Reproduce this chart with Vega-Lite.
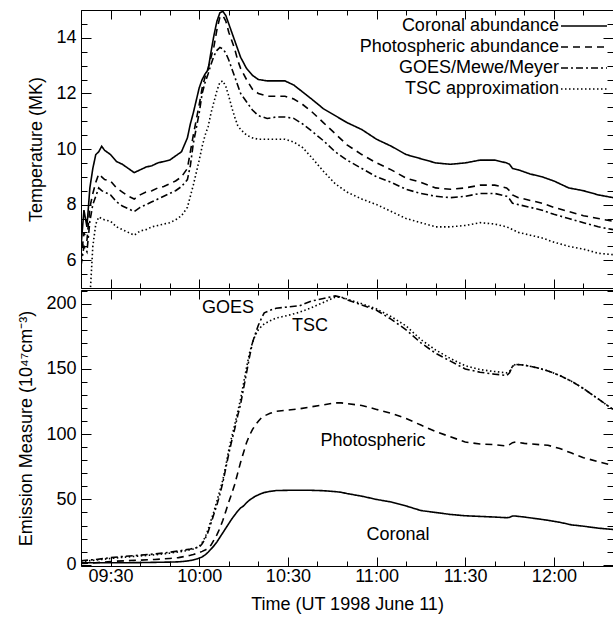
{
  "$schema": "https://vega.github.io/schema/vega-lite/v6.json",
  "padding": {"left": 17, "top": 9, "right": 0, "bottom": 0},
  "spacing": 0,
  "config": {
    "font": "Liberation Sans",
    "view": {"stroke": "black", "strokeWidth": 1},
    "axis": {"domain": false, "grid": false, "tickColor": "black", "labelColor": "black", "labelFontSize": 18, "titleFontSize": 18, "titleFontWeight": "normal", "titleColor": "black"}
  },
  "resolve": {"scale": {"strokeDash": "independent"}, "legend": {"strokeDash": "independent"}},
  "vconcat": [
    {
      "width": 532,
      "height": 278,
      "data": {
        "format": {"parse": {"t": "utc:'%H:%M'"}},
        "values": [
          {"t":"09:20","cor":6.5,"pho":6.0,"goe":5.8,"tsc":null},
          {"t":"09:21","cor":7.8,"pho":7.0,"goe":6.5,"tsc":null},
          {"t":"09:22","cor":7.2,"pho":6.7,"goe":6.3,"tsc":null},
          {"t":"09:23","cor":8.6,"pho":7.9,"goe":7.4,"tsc":4.6},
          {"t":"09:24","cor":9.3,"pho":8.4,"goe":8.0,"tsc":6.5},
          {"t":"09:25","cor":9.8,"pho":8.8,"goe":8.3,"tsc":7.3},
          {"t":"09:26","cor":9.9,"pho":9.1,"goe":8.6,"tsc":7.55},
          {"t":"09:27","cor":10.1,"pho":9.0,"goe":8.5,"tsc":7.5},
          {"t":"09:28","cor":9.95,"pho":8.9,"goe":8.45,"tsc":7.45},
          {"t":"09:30","cor":9.8,"pho":8.85,"goe":8.35,"tsc":7.4},
          {"t":"09:32","cor":9.55,"pho":8.6,"goe":8.1,"tsc":7.2},
          {"t":"09:34","cor":9.45,"pho":8.45,"goe":7.95,"tsc":7.1},
          {"t":"09:36","cor":9.3,"pho":8.3,"goe":7.85,"tsc":7.0},
          {"t":"09:38","cor":9.15,"pho":8.2,"goe":7.75,"tsc":6.9},
          {"t":"09:40","cor":9.25,"pho":8.35,"goe":7.9,"tsc":7.05},
          {"t":"09:42","cor":9.35,"pho":8.45,"goe":8.0,"tsc":7.1},
          {"t":"09:44","cor":9.4,"pho":8.5,"goe":8.1,"tsc":7.2},
          {"t":"09:46","cor":9.5,"pho":8.6,"goe":8.2,"tsc":7.25},
          {"t":"09:48","cor":9.55,"pho":8.65,"goe":8.3,"tsc":7.3},
          {"t":"09:50","cor":9.6,"pho":8.75,"goe":8.4,"tsc":7.35},
          {"t":"09:52","cor":9.75,"pho":8.85,"goe":8.5,"tsc":7.45},
          {"t":"09:54","cor":9.9,"pho":9.0,"goe":8.65,"tsc":7.6},
          {"t":"09:56","cor":10.4,"pho":9.3,"goe":8.9,"tsc":7.9},
          {"t":"09:57","cor":10.9,"pho":9.9,"goe":9.4,"tsc":8.3},
          {"t":"09:58","cor":11.3,"pho":10.5,"goe":10.2,"tsc":8.7},
          {"t":"10:00","cor":12.2,"pho":11.6,"goe":11.3,"tsc":9.6},
          {"t":"10:01","cor":12.5,"pho":12.2,"goe":12.0,"tsc":10.1},
          {"t":"10:02","cor":12.7,"pho":12.6,"goe":12.4,"tsc":10.5},
          {"t":"10:03","cor":12.85,"pho":12.9,"goe":12.7,"tsc":10.8},
          {"t":"10:04","cor":13.5,"pho":13.3,"goe":13.05,"tsc":11.3},
          {"t":"10:05","cor":14.1,"pho":13.7,"goe":13.35,"tsc":11.7},
          {"t":"10:06","cor":14.6,"pho":14.3,"goe":13.55,"tsc":12.1},
          {"t":"10:07","cor":14.9,"pho":14.75,"goe":13.65,"tsc":12.4},
          {"t":"10:08","cor":14.95,"pho":14.8,"goe":13.6,"tsc":12.45},
          {"t":"10:09","cor":14.8,"pho":14.6,"goe":13.45,"tsc":12.25},
          {"t":"10:10","cor":14.5,"pho":14.2,"goe":13.2,"tsc":11.9},
          {"t":"10:11","cor":14.2,"pho":13.9,"goe":12.9,"tsc":11.5},
          {"t":"10:12","cor":13.9,"pho":13.6,"goe":12.6,"tsc":11.15},
          {"t":"10:13","cor":13.6,"pho":13.2,"goe":12.3,"tsc":10.85},
          {"t":"10:14","cor":13.3,"pho":12.9,"goe":12.0,"tsc":10.7},
          {"t":"10:16","cor":12.9,"pho":12.5,"goe":11.7,"tsc":10.5},
          {"t":"10:18","cor":12.65,"pho":12.15,"goe":11.4,"tsc":10.4},
          {"t":"10:20","cor":12.5,"pho":12.0,"goe":11.2,"tsc":10.35},
          {"t":"10:23","cor":12.45,"pho":11.9,"goe":11.1,"tsc":10.35},
          {"t":"10:26","cor":12.45,"pho":11.9,"goe":11.15,"tsc":10.35},
          {"t":"10:29","cor":12.45,"pho":11.9,"goe":11.15,"tsc":10.35},
          {"t":"10:32","cor":12.3,"pho":11.8,"goe":11.1,"tsc":10.25},
          {"t":"10:35","cor":12.05,"pho":11.6,"goe":10.9,"tsc":10.05},
          {"t":"10:38","cor":11.8,"pho":11.35,"goe":10.65,"tsc":9.7},
          {"t":"10:42","cor":11.45,"pho":10.95,"goe":10.3,"tsc":9.2},
          {"t":"10:46","cor":11.2,"pho":10.55,"goe":9.9,"tsc":8.75},
          {"t":"10:50","cor":10.95,"pho":10.15,"goe":9.6,"tsc":8.45},
          {"t":"10:55","cor":10.7,"pho":9.8,"goe":9.3,"tsc":8.2},
          {"t":"11:00","cor":10.35,"pho":9.5,"goe":9.0,"tsc":8.0},
          {"t":"11:05","cor":10.1,"pho":9.25,"goe":8.8,"tsc":7.75},
          {"t":"11:10","cor":9.8,"pho":8.95,"goe":8.55,"tsc":7.5},
          {"t":"11:15","cor":9.65,"pho":8.8,"goe":8.4,"tsc":7.35},
          {"t":"11:20","cor":9.5,"pho":8.6,"goe":8.3,"tsc":7.2},
          {"t":"11:25","cor":9.45,"pho":8.55,"goe":8.25,"tsc":7.2},
          {"t":"11:30","cor":9.5,"pho":8.6,"goe":8.3,"tsc":7.25},
          {"t":"11:35","cor":9.6,"pho":8.7,"goe":8.4,"tsc":7.35},
          {"t":"11:40","cor":9.6,"pho":8.7,"goe":8.4,"tsc":7.3},
          {"t":"11:44","cor":9.5,"pho":8.6,"goe":8.3,"tsc":7.2},
          {"t":"11:45","cor":9.45,"pho":8.5,"goe":8.2,"tsc":7.15},
          {"t":"11:46","cor":9.3,"pho":8.35,"goe":8.05,"tsc":7.1},
          {"t":"11:48","cor":9.25,"pho":8.25,"goe":8.0,"tsc":7.0},
          {"t":"11:52","cor":9.1,"pho":8.15,"goe":7.9,"tsc":6.9},
          {"t":"11:56","cor":9.0,"pho":8.05,"goe":7.8,"tsc":6.8},
          {"t":"12:00","cor":8.85,"pho":7.9,"goe":7.65,"tsc":6.65},
          {"t":"12:05","cor":8.6,"pho":7.75,"goe":7.5,"tsc":6.5},
          {"t":"12:10","cor":8.5,"pho":7.6,"goe":7.35,"tsc":6.4},
          {"t":"12:15","cor":8.35,"pho":7.5,"goe":7.2,"tsc":6.25},
          {"t":"12:20","cor":8.25,"pho":7.4,"goe":7.1,"tsc":6.2}
        ]
      },
      "transform": [{"fold": ["cor", "pho", "goe", "tsc"], "as": ["s", "v"]}],
      "resolve": {"axis": {"x": "independent", "y": "independent"}},
      "layer": [
        {
          "mark": {"type": "line", "clip": true, "strokeWidth": 1.6, "color": "black"},
          "encoding": {
            "x": {"field": "t", "type": "temporal",
              "scale": {"type": "utc", "domain": [-2208955200000, -2208944400000]},
              "axis": {"orient": "bottom", "title": null, "labels": false, "values": [-2208954600000, -2208952800000, -2208951000000, -2208949200000, -2208947400000, -2208945600000], "tickSize": -9}},
            "y": {"field": "v", "type": "quantitative",
              "scale": {"domain": [5, 15], "nice": false, "zero": false},
              "axis": {"orient": "left", "title": "Temperature (MK)", "values": [6, 8, 10, 12, 14], "tickSize": -10, "labelPadding": 15, "titlePadding": 10}},
            "strokeDash": {"field": "s", "type": "nominal",
              "scale": {"domain": ["cor", "pho", "goe", "tsc"], "range": [[1, 0], [7, 5], [7, 3, 2, 3], [1.5, 2.5]]},
              "legend": {"orient": "top-right", "offset": 3, "padding": 0, "title": " ", "titleFontSize": 4, "titlePadding": 0,
                "labelFontSize": 18, "labelColor": "black", "labelAlign": "right", "labelOffset": -34, "labelLimit": 400,
                "symbolType": "M-4.6,0H4.6", "symbolSize": 100, "symbolStrokeWidth": 1.5, "symbolStrokeColor": "black", "rowPadding": 3,
                "labelExpr": "datum.label == 'cor' ? 'Coronal abundance' : datum.label == 'pho' ? 'Photospheric abundance' : datum.label == 'goe' ? 'GOES/Mewe/Meyer' : 'TSC approximation'"}}
          }
        },
        {
          "mark": {"type": "point", "opacity": 0, "clip": true},
          "encoding": {
            "x": {"field": "t", "type": "temporal", "axis": {"orient": "bottom", "title": null, "labels": false, "values": [-2208955200000, -2208954600000, -2208954000000, -2208953400000, -2208952800000, -2208952200000, -2208951600000, -2208951000000, -2208950400000, -2208949800000, -2208949200000, -2208948600000, -2208948000000, -2208947400000, -2208946800000, -2208946200000, -2208945600000, -2208945000000, -2208944400000], "tickSize": -5}},
            "y": {"field": "v", "type": "quantitative", "axis": {"orient": "left", "title": null, "labels": false, "values": [5,5.5,6,6.5,7,7.5,8,8.5,9,9.5,10,10.5,11,11.5,12,12.5,13,13.5,14,14.5,15], "tickSize": -6}}
          }
        },
        {
          "mark": {"type": "point", "opacity": 0, "clip": true},
          "encoding": {
            "x": {"field": "t", "type": "temporal", "axis": {"orient": "top", "title": null, "labels": false, "values": [-2208954600000, -2208952800000, -2208951000000, -2208949200000, -2208947400000, -2208945600000], "tickSize": -9}},
            "y": {"field": "v", "type": "quantitative", "axis": {"orient": "right", "title": null, "labels": false, "values": [6, 8, 10, 12, 14], "tickSize": -10}}
          }
        },
        {
          "mark": {"type": "point", "opacity": 0, "clip": true},
          "encoding": {
            "x": {"field": "t", "type": "temporal", "axis": {"orient": "top", "title": null, "labels": false, "values": [-2208955200000, -2208954600000, -2208954000000, -2208953400000, -2208952800000, -2208952200000, -2208951600000, -2208951000000, -2208950400000, -2208949800000, -2208949200000, -2208948600000, -2208948000000, -2208947400000, -2208946800000, -2208946200000, -2208945600000, -2208945000000, -2208944400000], "tickSize": -5}},
            "y": {"field": "v", "type": "quantitative", "axis": {"orient": "right", "title": null, "labels": false, "values": [5,5.5,6,6.5,7,7.5,8,8.5,9,9.5,10,10.5,11,11.5,12,12.5,13,13.5,14,14.5,15], "tickSize": -6}}
          }
        }
      ]
    },
    {
      "width": 532,
      "height": 276,
      "resolve": {"axis": {"x": "independent", "y": "independent"}},
      "layer": [
        {
          "data": {
            "format": {"parse": {"t": "utc:'%H:%M'"}},
            "values": [
              {"t":"09:20","cor":1.5,"pho":1,"goe":3,"tsc":2.5},
              {"t":"09:25","cor":1.5,"pho":1.5,"goe":4,"tsc":3.5},
              {"t":"09:30","cor":1.5,"pho":2.5,"goe":5.4,"tsc":4.8},
              {"t":"09:35","cor":1.5,"pho":3,"goe":6.5,"tsc":5.8},
              {"t":"09:40","cor":1.6,"pho":3.5,"goe":7.3,"tsc":6.7},
              {"t":"09:45","cor":1.8,"pho":4,"goe":8.2,"tsc":7.6},
              {"t":"09:50","cor":2.0,"pho":4.8,"goe":9.5,"tsc":8.8},
              {"t":"09:53","cor":2.2,"pho":5.4,"goe":10.5,"tsc":9.8},
              {"t":"09:55","cor":2.6,"pho":6.3,"goe":11.2,"tsc":10.5},
              {"t":"09:57","cor":3.2,"pho":7.2,"goe":12,"tsc":11.5},
              {"t":"09:58","cor":3.7,"pho":7.8,"goe":12.5,"tsc":12},
              {"t":"09:59","cor":4.3,"pho":8.5,"goe":13,"tsc":13},
              {"t":"10:00","cor":5,"pho":9.3,"goe":13.5,"tsc":14},
              {"t":"10:01","cor":6,"pho":10.2,"goe":16,"tsc":17},
              {"t":"10:02","cor":7.5,"pho":11.2,"goe":20,"tsc":21},
              {"t":"10:03","cor":9.5,"pho":12.5,"goe":25,"tsc":27},
              {"t":"10:04","cor":12,"pho":15,"goe":32,"tsc":34},
              {"t":"10:05","cor":14.5,"pho":19,"goe":39,"tsc":41},
              {"t":"10:06","cor":17.5,"pho":23,"goe":46,"tsc":49},
              {"t":"10:07","cor":21,"pho":28,"goe":54,"tsc":57},
              {"t":"10:08","cor":24.5,"pho":34,"goe":63,"tsc":65},
              {"t":"10:09","cor":28,"pho":41,"goe":74,"tsc":76},
              {"t":"10:10","cor":31.5,"pho":48,"goe":85,"tsc":88},
              {"t":"10:11","cor":35,"pho":54.5,"goe":95,"tsc":98},
              {"t":"10:12","cor":38,"pho":61.5,"goe":104,"tsc":107},
              {"t":"10:13","cor":41,"pho":70,"goe":114,"tsc":117},
              {"t":"10:14","cor":43.5,"pho":78.5,"goe":123,"tsc":127},
              {"t":"10:15","cor":45,"pho":86,"goe":135,"tsc":139},
              {"t":"10:16","cor":47.5,"pho":93.5,"goe":147,"tsc":151},
              {"t":"10:17","cor":49.5,"pho":99,"goe":159,"tsc":162},
              {"t":"10:18","cor":51,"pho":103.5,"goe":170,"tsc":170},
              {"t":"10:19","cor":52.5,"pho":107,"goe":177,"tsc":176},
              {"t":"10:20","cor":53.5,"pho":110,"goe":183.5,"tsc":180},
              {"t":"10:21","cor":54.5,"pho":112.5,"goe":188.5,"tsc":182.5},
              {"t":"10:22","cor":55.3,"pho":114,"goe":193,"tsc":184.5},
              {"t":"10:24","cor":56.2,"pho":116,"goe":195,"tsc":187},
              {"t":"10:26","cor":56.8,"pho":117.5,"goe":196.5,"tsc":189},
              {"t":"10:30","cor":57,"pho":118.5,"goe":197.5,"tsc":191},
              {"t":"10:34","cor":57,"pho":119.5,"goe":198.5,"tsc":193.5},
              {"t":"10:38","cor":57,"pho":121,"goe":202,"tsc":197},
              {"t":"10:42","cor":56.7,"pho":122.5,"goe":204,"tsc":201},
              {"t":"10:46","cor":56,"pho":124,"goe":206,"tsc":205},
              {"t":"10:48","cor":55.5,"pho":124,"goe":205,"tsc":205},
              {"t":"10:50","cor":54.5,"pho":123.5,"goe":203,"tsc":203.5},
              {"t":"10:55","cor":52.5,"pho":122,"goe":199,"tsc":200},
              {"t":"11:00","cor":50,"pho":119,"goe":195,"tsc":196},
              {"t":"11:05","cor":48,"pho":116,"goe":188,"tsc":190},
              {"t":"11:10","cor":45,"pho":112,"goe":180,"tsc":183},
              {"t":"11:15","cor":41.5,"pho":107,"goe":170,"tsc":172.5},
              {"t":"11:20","cor":40,"pho":102,"goe":162,"tsc":164.5},
              {"t":"11:25","cor":38.5,"pho":98,"goe":156,"tsc":158},
              {"t":"11:30","cor":37.5,"pho":94,"goe":150,"tsc":152.5},
              {"t":"11:35","cor":37,"pho":92.5,"goe":147.5,"tsc":149.5},
              {"t":"11:40","cor":36.5,"pho":92,"goe":146,"tsc":148},
              {"t":"11:44","cor":36,"pho":91,"goe":145,"tsc":147},
              {"t":"11:45","cor":36.3,"pho":92,"goe":147,"tsc":148},
              {"t":"11:46","cor":37.3,"pho":93.5,"goe":152,"tsc":152},
              {"t":"11:47","cor":37.3,"pho":94,"goe":153.5,"tsc":153.5},
              {"t":"11:50","cor":36.5,"pho":93,"goe":153,"tsc":153},
              {"t":"11:55","cor":35,"pho":92,"goe":150.5,"tsc":150.5},
              {"t":"11:58","cor":34,"pho":91.5,"goe":148.5,"tsc":148.5},
              {"t":"12:02","cor":32.5,"pho":89,"goe":145,"tsc":145},
              {"t":"12:06","cor":30.5,"pho":85.5,"goe":140.5,"tsc":140.5},
              {"t":"12:10","cor":29.5,"pho":82,"goe":135,"tsc":135},
              {"t":"12:15","cor":28,"pho":79,"goe":127,"tsc":127},
              {"t":"12:20","cor":27,"pho":76,"goe":119,"tsc":119}
            ]
          },
          "transform": [{"fold": ["cor", "pho", "goe", "tsc"], "as": ["s", "v"]}],
          "resolve": {"axis": {"x": "independent", "y": "independent"}},
          "layer": [
            {
              "mark": {"type": "line", "clip": true, "strokeWidth": 1.6, "color": "black"},
              "encoding": {
                "x": {"field": "t", "type": "temporal",
                  "scale": {"type": "utc", "domain": [-2208955200000, -2208944400000]},
                  "axis": {"orient": "bottom", "title": "Time (UT 1998 June 11)", "values": [-2208954600000, -2208952800000, -2208951000000, -2208949200000, -2208947400000, -2208945600000], "format": "%H:%M", "tickSize": -9, "labelPadding": 10, "titlePadding": 10}},
                "y": {"field": "v", "type": "quantitative",
                  "scale": {"domain": [-1, 210.5], "nice": false, "zero": false},
                  "axis": {"orient": "left", "title": "Emission Measure (10⁴⁷cm⁻³)", "values": [0, 50, 100, 150, 200], "tickSize": -10, "labelPadding": 15, "titlePadding": 10}},
                "strokeDash": {"field": "s", "type": "nominal",
                  "scale": {"domain": ["cor", "pho", "goe", "tsc"], "range": [[1, 0], [7, 5], [7, 3, 2, 3], [1.5, 2.5]]},
                  "legend": null}
              }
            },
            {
              "mark": {"type": "point", "opacity": 0, "clip": true},
              "encoding": {
                "x": {"field": "t", "type": "temporal", "axis": {"orient": "bottom", "title": null, "labels": false, "values": [-2208955200000, -2208954600000, -2208954000000, -2208953400000, -2208952800000, -2208952200000, -2208951600000, -2208951000000, -2208950400000, -2208949800000, -2208949200000, -2208948600000, -2208948000000, -2208947400000, -2208946800000, -2208946200000, -2208945600000, -2208945000000, -2208944400000], "tickSize": -5}},
                "y": {"field": "v", "type": "quantitative", "axis": {"orient": "left", "title": null, "labels": false, "values": [0,10,20,30,40,50,60,70,80,90,100,110,120,130,140,150,160,170,180,190,200,210], "tickSize": -6}}
              }
            },
            {
              "mark": {"type": "point", "opacity": 0, "clip": true},
              "encoding": {
                "x": {"field": "t", "type": "temporal", "axis": {"orient": "top", "title": null, "labels": false, "values": [-2208954600000, -2208952800000, -2208951000000, -2208949200000, -2208947400000, -2208945600000], "tickSize": -9}},
                "y": {"field": "v", "type": "quantitative", "axis": {"orient": "right", "title": null, "labels": false, "values": [0, 50, 100, 150, 200], "tickSize": -10}}
              }
            },
            {
              "mark": {"type": "point", "opacity": 0, "clip": true},
              "encoding": {
                "x": {"field": "t", "type": "temporal", "axis": {"orient": "top", "title": null, "labels": false, "values": [-2208955200000, -2208954600000, -2208954000000, -2208953400000, -2208952800000, -2208952200000, -2208951600000, -2208951000000, -2208950400000, -2208949800000, -2208949200000, -2208948600000, -2208948000000, -2208947400000, -2208946800000, -2208946200000, -2208945600000, -2208945000000, -2208944400000], "tickSize": -5}},
                "y": {"field": "v", "type": "quantitative", "axis": {"orient": "right", "title": null, "labels": false, "values": [0,10,20,30,40,50,60,70,80,90,100,110,120,130,140,150,160,170,180,190,200,210], "tickSize": -6}}
              }
            }
          ]
        },
        {
          "data": {
            "format": {"parse": {"t": "utc:'%H:%M:%S'"}},
            "values": [
              {"t": "10:09:44", "val": 197, "txt": "GOES"},
              {"t": "10:37:30", "val": 183, "txt": "TSC"},
              {"t": "10:58:48", "val": 95, "txt": "Photospheric"},
              {"t": "11:07:15", "val": 23, "txt": "Coronal"}
            ]
          },
          "mark": {"type": "text", "fontSize": 18, "color": "black", "align": "center", "baseline": "middle"},
          "encoding": {
            "x": {"field": "t", "type": "temporal", "axis": null},
            "y": {"field": "val", "type": "quantitative", "axis": null},
            "text": {"field": "txt"}
          }
        }
      ]
    }
  ]
}
